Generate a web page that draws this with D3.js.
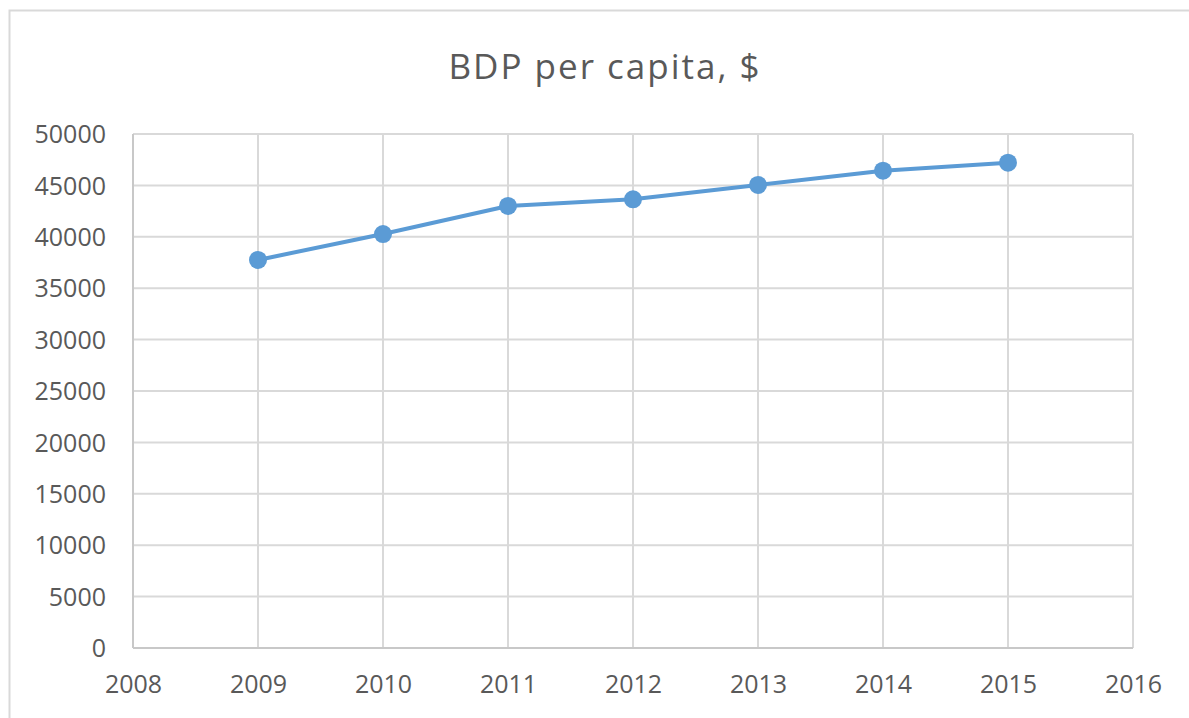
<!DOCTYPE html>
<html>
<head>
<meta charset="utf-8">
<script src="https://cdn.jsdelivr.net/npm/d3@7"></script>
<style>
  body { margin: 0; background: #fff; }
  svg text { font-family: "Open Sans", sans-serif; fill: #595959; }
</style>
</head>
<body>
<div id="chart"></div>
<script>
// data
var years = [2009, 2010, 2011, 2012, 2013, 2014, 2015];
var gdp = [37750, 40270, 43000, 43650, 45040, 46430, 47210];
var yTicks = [0, 5000, 10000, 15000, 20000, 25000, 30000, 35000, 40000, 45000, 50000];
var xTicks = [2008, 2009, 2010, 2011, 2012, 2013, 2014, 2015, 2016];
var title = "BDP per capita, $";

var W = 1189, H = 718;
var margin = {top: 134, right: 56, bottom: 70, left: 133};
var width = W - margin.left - margin.right,
    height = H - margin.top - margin.bottom;

var svg = d3.select("#chart").append("svg")
  .attr("width", W)
  .attr("height", H);

// chart frame
svg.append("rect")
  .attr("x", 9.5).attr("y", 10.5)
  .attr("width", W + 20).attr("height", H + 20)
  .attr("fill", "none")
  .attr("stroke", "#d9d9d9")
  .attr("stroke-width", 2);

svg.append("text")
  .attr("x", 605)
  .attr("y", 79)
  .attr("text-anchor", "middle")
  .style("font-size", "35px")
  .style("letter-spacing", "2px")
  .text(title);

var g = svg.append("g")
  .attr("transform", "translate(" + margin.left + "," + margin.top + ")");

var x = d3.scaleLinear().domain([2008, 2016]).range([0, width]);
var y = d3.scaleLinear().domain([0, 50000]).range([height, 0]);

// gridlines
g.append("g").selectAll("line")
  .data(yTicks)
  .enter().append("line")
  .attr("x1", 0).attr("x2", width)
  .attr("y1", function(d) { return y(d); })
  .attr("y2", function(d) { return y(d); })
  .attr("stroke", "#d9d9d9")
  .attr("stroke-width", 2);

g.append("g").selectAll("line")
  .data(xTicks)
  .enter().append("line")
  .attr("x1", function(d) { return x(d); })
  .attr("x2", function(d) { return x(d); })
  .attr("y1", 0).attr("y2", height)
  .attr("stroke", function(d, i) { return (i == 0) ? "#c8c8c8" : "#d9d9d9"; })
  .attr("stroke-width", 2);

// bottom axis line
g.append("line")
  .attr("x1", 0).attr("x2", width)
  .attr("y1", height).attr("y2", height)
  .attr("stroke", "#c8c8c8")
  .attr("stroke-width", 2);

var yAxis = d3.axisLeft(y).tickValues(yTicks).tickSize(0).tickPadding(27).tickFormat(d3.format("d"));
var xAxis = d3.axisBottom(x).tickValues(xTicks).tickSize(0).tickPadding(27).tickFormat(d3.format("d"));

g.append("g").call(yAxis)
  .call(function(a) { a.select(".domain").remove(); })
  .selectAll("text")
  .style("font-size", "25px")
  .attr("dy", "0.35em");

g.append("g")
  .attr("transform", "translate(0," + height + ")")
  .call(xAxis)
  .call(function(a) { a.select(".domain").remove(); })
  .selectAll("text")
  .style("font-size", "25px");

var pts = years.map(function(d, i) { return {year: d, value: gdp[i]}; });

var line = d3.line()
  .x(function(d) { return x(d.year); })
  .y(function(d) { return y(d.value); });

g.append("path")
  .datum(pts)
  .attr("d", line)
  .attr("fill", "none")
  .attr("stroke", "#5b9bd5")
  .attr("stroke-width", 4)
  .attr("stroke-linejoin", "round");

g.selectAll(".dot")
  .data(pts)
  .enter().append("circle")
  .attr("class", "dot")
  .attr("cx", function(d) { return x(d.year); })
  .attr("cy", function(d) { return y(d.value); })
  .attr("r", 9)
  .attr("fill", "#5b9bd5");
</script>
</body>
</html>
